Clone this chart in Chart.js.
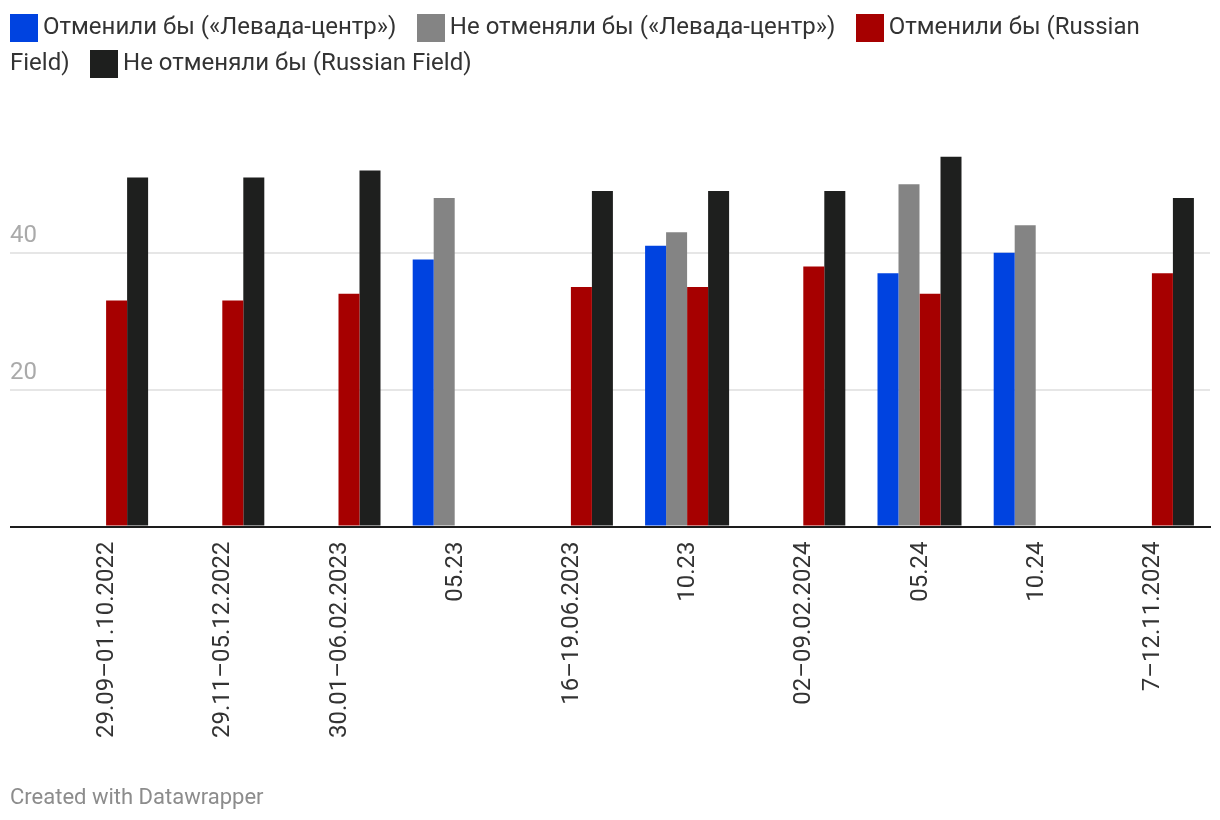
<!DOCTYPE html>
<html>
<head>
<meta charset="utf-8">
<script src="https://cdn.jsdelivr.net/npm/chart.js@4/dist/chart.umd.min.js"></script>
<style>
  html, body { margin: 0; padding: 0; background: #fff; }
  body { width: 1220px; height: 820px; position: relative; overflow: hidden; font-family: Roboto, sans-serif; }
  #chart { position: absolute; left: 0; top: 0; }
  #legend { position: absolute; left: 10px; top: 8px; width: 1200px; font-size: 24px; line-height: 36px; color: #333; }
  #legend .item { margin-right: 14.5px; }
  #legend .key { display: inline-block; width: 28px; height: 28px; vertical-align: -8px; margin-right: 5px; }
  #footer { position: absolute; left: 10px; top: 784px; font-size: 22px; color: #8c8c8c; }
</style>
</head>
<body>
<canvas id="chart" width="1220" height="820"></canvas>
<div id="legend"></div>
<div id="footer">Created with Datawrapper</div>
<script>
const categories = ['29.09–01.10.2022','29.11–05.12.2022','30.01–06.02.2023','05.23','16–19.06.2023','10.23','02–09.02.2024','05.24','10.24','7–12.11.2024'];
const levadaCancel = [null, null, null, 39, null, 41, null, 37, 40, null];
const levadaKeep   = [null, null, null, 48, null, 43, null, 50, 44, null];
const rfCancel     = [33, 33, 34, null, 35, 35, 38, 34, null, 37];
const rfKeep       = [51, 51, 52, null, 49, 49, 49, 54, null, 48];
const seriesNames = ['Отменили бы («Левада-центр»)', 'Не отменяли бы («Левада-центр»)', 'Отменили бы (Russian Field)', 'Не отменяли бы (Russian Field)'];
const seriesColors = ['#0043e0', '#848484', '#a60000', '#1e1f1e'];
const yTickLabels = [20, 40];

const legend = document.getElementById('legend');
legend.innerHTML = seriesNames.map((n, i) =>
  '<span class="item"><span class="key" style="background:' + seriesColors[i] + '"></span>' + n + '</span>').join(' ');

Chart.defaults.font.family = 'Roboto, sans-serif';

const values = [levadaCancel, levadaKeep, rfCancel, rfKeep];
new Chart(document.getElementById('chart'), {
  type: 'bar',
  data: {
    labels: categories,
    datasets: values.map((v, i) => ({
      label: seriesNames[i],
      data: v,
      backgroundColor: seriesColors[i],
      borderWidth: 0,
      categoryPercentage: 0.723,
      barPercentage: 1.0
    }))
  },
  options: {
    responsive: false,
    animation: false,
    layout: { padding: { left: 10, right: 10, top: 115.8, bottom: 0 } },
    plugins: { legend: { display: false }, tooltip: { enabled: false } },
    scales: {
      x: {
        afterFit: s => { s.height = 293.5; },
        grid: { display: false },
        border: { display: true, color: '#1d1d1d', width: 2, z: 1 },
        ticks: {
          autoSkip: false, maxRotation: 90, minRotation: 90,
          padding: 7,
          labelOffset: 1,
          color: '#333',
          font: { size: 24 }
        }
      },
      y: {
        min: 0, max: 60,
        afterFit: s => { s.width = 38; },
        border: { display: false },
        grid: {
          drawTicks: true,
          tickLength: 38,
          lineWidth: 2,
          color: ctx => {
            const v = ctx.tick ? ctx.tick.value : null;
            if (v === 0) return '#1d1d1d';
            return yTickLabels.includes(v) ? '#e6e6e6' : 'rgba(0,0,0,0)';
          }
        },
        ticks: {
          stepSize: 20,
          crossAlign: 'far',
          labelOffset: -17,
          color: '#aaaaaa',
          font: { size: 24 },
          callback: v => yTickLabels.includes(v) ? String(v) : ''
        }
      }
    }
  }
});
</script>
</body>
</html>
